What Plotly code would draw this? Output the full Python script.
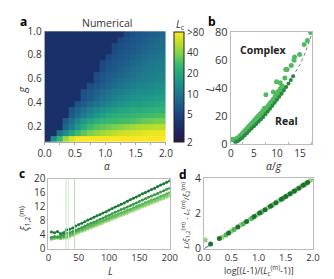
import numpy as np
import plotly.graph_objects as go

W, H = 334, 279
def px(x): return x / W
def py(y): return 1 - y / H

FONT = "Open Sans"
TXT = "#333333"

# ---------------- Panel a: numerical L_c map ----------------
alpha_values = [0.05, 0.15, 0.25, 0.35, 0.45, 0.55, 0.65, 0.75, 0.85, 0.95,
                1.05, 1.15, 1.25, 1.35, 1.45, 1.55, 1.65, 1.75, 1.85, 1.95]
g_values = [0.976, 0.927, 0.878, 0.829, 0.780, 0.731, 0.683, 0.634, 0.585, 0.536,
            0.487, 0.438, 0.389, 0.341, 0.292, 0.243, 0.194, 0.145, 0.096]
D = 3.5  # value in the dark (small-L_c) region
Lc_grid = [
    [D]*13 + [5.4, 5.9, 6.3, 6.8, 7.2, 7.5, 8.1],
    [D]*12 + [5.4, 5.9, 6.3, 6.8, 7.2, 7.8, 8.1, 8.8],
    [D]*11 + [5.4, 5.9, 6.3, 6.8, 7.2, 7.8, 8.4, 8.8, 9.1],
    [D]*11 + [5.6, 6.1, 6.5, 7.0, 7.5, 8.1, 8.8, 9.1, 9.4],
    [D]*10 + [5.4, 6.1, 6.5, 7.0, 7.5, 8.1, 8.8, 9.4, 9.8, 10.1],
    [D]*9 + [5.4, 6.1, 6.5, 7.0, 7.5, 8.1, 8.8, 9.4, 10.1, 10.5, 10.9],
    [D]*9 + [5.6, 6.3, 6.8, 7.5, 8.1, 8.8, 9.4, 10.1, 10.5, 10.9, 11.3],
    [D]*8 + [5.6, 6.3, 7.0, 7.5, 8.1, 8.8, 9.4, 10.1, 10.9, 11.3, 11.7, 12.2],
    [D]*8 + [5.9, 6.5, 7.2, 8.1, 8.8, 9.4, 10.1, 10.9, 11.3, 11.7, 12.2, 12.6],
    [D]*7 + [5.9, 6.5, 7.2, 8.1, 9.1, 9.8, 10.5, 11.3, 12.2, 12.6, 13.1, 13.6, 14.1],
    [D]*6 + [5.9, 6.8, 7.5, 8.4, 9.4, 10.5, 11.3, 12.2, 13.1, 13.6, 14.1, 14.6, 15.2, 15.8],
    [D]*6 + [6.1, 7.0, 8.1, 9.4, 10.5, 11.7, 12.6, 13.6, 14.6, 15.2, 15.8, 16.4, 17.0, 17.6],
    [D]*5 + [6.3, 7.2, 8.4, 9.8, 11.3, 12.6, 14.1, 15.2, 16.4, 17.0, 17.6, 18.3, 19.0, 19.7, 20.4],
    [D]*4 + [6.5, 7.8, 9.4, 11.3, 13.1, 14.6, 16.4, 17.6, 19.0, 19.7, 20.4, 21.2, 22.0, 22.8, 23.7, 23.7],
    [D]*4 + [7.0, 8.8, 10.9, 13.6, 15.8, 18.3, 20.4, 22.0, 22.8, 23.7, 24.6, 25.5, 26.4, 27.4, 28.5, 29.6],
    [D]*3 + [7.2, 9.4, 12.6, 16.4, 19.7, 22.8, 24.6, 25.5, 26.4, 27.4, 28.5, 29.6, 31.8, 34.2, 35.5, 36.9, 36.9],
    [D]*3 + [8.1, 11.3, 15.8, 21.2, 26.4, 30.6, 33.0, 35.5, 38.0, 41.0, 44.3, 47.8, 49.6, 51.0, 53.0, 55.0, 55.0],
    [D]*2 + [9.4, 13.6, 19.7, 26.4, 33.0, 38.0, 42.5, 47.8, 51.0, 55.0, 59.0, 61.3, 63.6, 66.0, 68.5, 71.0, 71.0, 73.7],
    [D]*1 + [13.6, 24.6, 46.0, 66.0, 80.0] + [90.0]*14,
]
cbar_vals = [2, 5, 10, 20, 40, 80]
cbar_text = ["2", "5", "10", "20", "40", ">80"]

# ---------------- Panel b: L vs alpha/g ----------------
b_complex_x = [0.1, 0.3, 0.5, 0.7, 0.9, 1.1, 1.3, 1.6, 1.9, 2.2, 2.5, 2.8, 3.1, 3.4, 3.7,
               4.0, 4.3, 4.6, 4.9, 5.2, 5.5, 5.8, 6.1, 6.4, 6.7, 7.0, 7.3, 7.6, 7.9, 8.2,
               8.5, 8.8, 9.2, 9.6, 9.9, 10.3, 10.7, 11.1, 11.7, 11.9, 12.2, 13.1, 13.7,
               13.8, 14.9, 15.9, 16.6, 17.3, 7.6, 9.9, 10.7, 9.2]
b_complex_y = [3.0, 3.0, 3.1, 3.0, 3.2, 3.4, 3.7, 4.4, 5.3, 6.3, 7.3, 8.4, 9.5, 10.5, 11.7,
               12.7, 13.8, 14.9, 16.0, 17.0, 18.1, 19.4, 20.3, 21.5, 22.4, 23.8, 25.5, 25.3,
               26.5, 27.6, 29.0, 30.2, 32.0, 34.0, 36.0, 37.6, 39.5, 41.5, 47.3, 53.4, 53.4,
               56.3, 60.1, 62.4, 64.2, 71.4, 74.3, 80.0, 35.3, 44.6, 43.9, 37.2]
b_band_x = [1.5, 2.0, 2.5, 3.0, 3.5, 4.0, 4.5, 5.0, 5.5, 6.0, 6.5, 7.0, 7.5, 8.0, 8.5,
            9.0, 9.5, 10.0, 10.5, 11.0, 11.5]
b_band_y = [3.6, 4.8, 6.1, 7.8, 9.4, 11.2, 12.8, 14.4, 16.0, 17.6, 19.3, 21.1, 23.0,
            25.0, 27.0, 29.1, 31.2, 33.4, 35.6, 37.9, 40.3]
b_real_x = [1.0, 1.5, 2.0, 2.5, 3.0, 3.5, 4.0, 4.5, 5.0, 5.5, 6.0, 6.5, 7.0, 7.5, 8.0,
            8.5, 9.0, 9.5, 10.0, 10.5, 11.0, 11.5, 12.0, 12.5, 13.0, 13.5]
b_real_y = [1.0, 1.8, 3.0, 4.3, 6.0, 7.6, 9.4, 11.0, 12.6, 14.2, 15.8, 17.5, 19.3, 21.2,
            23.2, 25.2, 27.3, 29.4, 31.6, 33.8, 36.0, 38.4, 40.8, 43.3, 45.9, 48.6]
b_fit_x = [12.0, 13, 14, 15, 16, 17, 17.4]
b_fit_y = [40.8, 45.9, 51.3, 57.0, 64.5, 73.0, 77.5]

# ---------------- Panel c: xi vs L ----------------
c_L = [5, 10, 15, 20, 25, 30, 35, 40, 45, 50, 55, 60, 65, 70, 75, 80, 85, 90, 95, 100,
       105, 110, 115, 120, 125, 130, 135, 140, 145, 150, 155, 160, 165, 170, 175, 180,
       185, 190, 195, 200]
c_xi = [
    [4.8, 4.6, 4.9, 4.3, 4.6, 5.4, 5.6, 5.9,
     6.5, 6.9, 7.3, 7.7, 8.2, 8.6, 9.0, 9.4, 9.8, 10.2, 10.6, 11.1, 11.5, 11.9, 12.3, 12.7,
     13.1, 13.6, 14.0, 14.4, 14.8, 15.2, 15.7, 16.1, 16.5, 16.9, 17.3, 17.8, 18.2, 18.6,
     19.0, 19.4],
    [3.3, 3.5, 3.4, 3.6, 3.9, 4.4, 4.6, 4.9,
     5.3, 5.7, 6.1, 6.5, 6.9, 7.3, 7.6, 8.0, 8.4, 8.8, 9.2, 9.6, 10.0, 10.4, 10.8, 11.2,
     11.5, 11.9, 12.3, 12.7, 13.1, 13.5, 13.9, 14.3, 14.7, 15.1, 15.4, 15.8, 16.2, 16.6,
     17.0, 17.3],
    [3.0, 3.2, 3.3, 3.1, 3.4, 3.5, 3.9, 4.3,
     4.8, 5.2, 5.5, 5.9, 6.3, 6.6, 7.0, 7.4, 7.7, 8.1, 8.4, 8.8, 9.2, 9.5, 9.9, 10.3,
     10.6, 11.0, 11.3, 11.7, 12.1, 12.4, 12.8, 13.2, 13.5, 13.9, 14.2, 14.6, 15.0, 15.3,
     15.7, 16.1],
    [2.8, 3.0, 3.2, 3.0, 3.2, 3.3, 3.6, 4.1,
     4.5, 4.9, 5.2, 5.6, 5.9, 6.3, 6.6, 7.0, 7.3, 7.7, 8.1, 8.4, 8.8, 9.1, 9.5, 9.8,
     10.2, 10.5, 10.9, 11.2, 11.6, 12.0, 12.3, 12.7, 13.0, 13.4, 13.7, 14.1, 14.4, 14.8,
     15.1, 15.5],
    [2.7, 2.9, 3.0, 2.9, 3.0, 3.1, 3.4, 3.8,
     4.2, 4.5, 4.9, 5.2, 5.6, 5.9, 6.3, 6.6, 7.0, 7.3, 7.7, 8.0, 8.4, 8.7, 9.1, 9.4,
     9.8, 10.1, 10.5, 10.8, 11.2, 11.5, 11.9, 12.2, 12.6, 12.9, 13.3, 13.6, 14.0, 14.3,
     14.7, 15.0],
]
c_colors = ["#1b7a37", "#3a9a48", "#5bb65a", "#84cb6c", "#a9dc8c"]
c_Lc_marks = [29, 33, 43]
c_Lc_colors = ["#c5e3c5", "#d5ebd5", "#b5dcb5"]

# ---------------- Panel d: collapse ----------------
d_dark_x = [0.12, 0.28, 0.45, 0.62, 0.78, 0.92, 1.02, 1.12, 1.22, 1.32, 1.42, 1.50, 1.58,
            1.66, 1.74, 1.82, 1.90]
d_dark_y = [0.27, 0.58, 0.90, 1.24, 1.55, 1.83, 2.03, 2.22, 2.42, 2.62, 2.82, 2.98, 3.13,
            3.29, 3.45, 3.61, 3.77]
d_mid_x = [0.40, 0.55, 0.72, 0.88, 1.05, 1.25, 1.45, 1.65, 1.85]
d_mid_y = [0.79, 1.09, 1.43, 1.74, 2.08, 2.48, 2.87, 3.27, 3.66]
d_light_x = [0.02, 0.33, 0.50, 0.68, 0.85, 0.97, 1.07, 1.17, 1.27, 1.37, 1.46, 1.54, 1.62,
             1.70, 1.78, 1.86, 1.95]
d_light_y = [0.50, 0.66, 1.00, 1.36, 1.69, 1.93, 2.13, 2.33, 2.53, 2.73, 2.90, 3.06, 3.22,
             3.38, 3.54, 3.70, 3.88]
d_fit_x = [0.0, 2.0]
d_fit_y = [0.0, 3.96]

# ---------------- Build figure ----------------
cs = [[0.0, "#2c1746"], [0.07, "#25205c"], [0.15, "#1a3068"], [0.25, "#1d4480"],
      [0.35, "#1e5e8b"], [0.45, "#1f798d"], [0.55, "#1e948b"], [0.65, "#2aae7c"],
      [0.72, "#45bd68"], [0.80, "#7bd04f"], [0.90, "#bddf27"], [1.0, "#fde725"]]

fig = go.Figure()
fig.add_trace(go.Heatmap(
    x=alpha_values, y=g_values, z=np.log10(np.array(Lc_grid, dtype=float)),
    zmin=np.log10(2), zmax=np.log10(80), colorscale=cs, xaxis="x", yaxis="y",
    hoverinfo="skip",
    colorbar=dict(x=px(166), xanchor="left", y=py(17), yanchor="top",
                  len=116 / H, lenmode="fraction", thickness=10, thicknessmode="pixels",
                  xpad=0, ypad=0, outlinewidth=1, outlinecolor="#222222",
                  tickvals=list(np.log10(cbar_vals)), ticktext=cbar_text, ticks="",
                  tickfont=dict(size=10, color=TXT, family=FONT)),
))

# panel b
fig.add_trace(go.Scatter(x=b_fit_x, y=b_fit_y, mode="lines", xaxis="x2", yaxis="y2",
                         line=dict(color="#777777", width=1, dash="dot"), showlegend=False))
fig.add_trace(go.Scatter(x=b_band_x, y=b_band_y, mode="markers", xaxis="x2", yaxis="y2",
                         marker=dict(size=5, color="#4fb45c"), showlegend=False))
fig.add_trace(go.Scatter(x=b_complex_x, y=b_complex_y, mode="markers", xaxis="x2", yaxis="y2",
                         marker=dict(size=5, color="#52b960"), showlegend=False))
fig.add_trace(go.Scatter(x=b_real_x, y=b_real_y, mode="markers", xaxis="x2", yaxis="y2",
                         marker=dict(size=4, color="#2a8a42"), showlegend=False))

# panel c
for v, col in zip(c_Lc_marks, c_Lc_colors):
    fig.add_shape(type="line", xref="x3", yref="y3 domain", x0=v, x1=v, y0=0, y1=1,
                  line=dict(color=col, width=1))
for ys, col in zip(c_xi[::-1], c_colors[::-1]):
    fig.add_trace(go.Scatter(x=c_L, y=ys, mode="lines+markers", xaxis="x3", yaxis="y3",
                             line=dict(color=col, width=1.3),
                             marker=dict(size=3, color=col), showlegend=False))

# panel d
fig.add_trace(go.Scatter(x=d_fit_x, y=d_fit_y, mode="lines", xaxis="x4", yaxis="y4",
                         line=dict(color="#333333", width=0.8, dash="dash"), showlegend=False))
fig.add_trace(go.Scatter(x=d_light_x, y=d_light_y, mode="markers", xaxis="x4", yaxis="y4",
                         marker=dict(size=5, color="#8fd27a"), showlegend=False))
fig.add_trace(go.Scatter(x=d_mid_x, y=d_mid_y, mode="markers", xaxis="x4", yaxis="y4",
                         marker=dict(size=5, color="#4fb45c"), showlegend=False))
fig.add_trace(go.Scatter(x=d_dark_x, y=d_dark_y, mode="markers", xaxis="x4", yaxis="y4",
                         marker=dict(size=5, color="#1d6f33"), showlegend=False))

tickfont = dict(size=10, color=TXT, family=FONT)
def ax(**kw):
    base = dict(showgrid=False, zeroline=False, tickfont=tickfont, ticks="",
                showline=True, linecolor="#aaaaaa", linewidth=1)
    base.update(kw)
    return base

fig.update_layout(
    width=W, height=H, margin=dict(l=0, r=0, t=0, b=0), autosize=False,
    paper_bgcolor="white", plot_bgcolor="white", showlegend=False,
    font=dict(family=FONT, color=TXT),
    xaxis=ax(domain=[px(31), px(158)], range=[0, 2], anchor="y",
             tickvals=[0, 0.5, 1, 1.5, 2], ticktext=["0.0", "0.5", "1.0", "1.5", "2.0"],
             ticks="outside", ticklen=2, tickcolor="#aaaaaa",
             minor=dict(tickvals=[0.25, 0.75, 1.25, 1.75], ticks="outside", ticklen=2,
                        tickcolor="#aaaaaa")),
    yaxis=ax(domain=[py(133), py(16)], range=[0.072, 1.0], anchor="x",
             tickvals=[0.2, 0.4, 0.6, 0.8, 1.0], ticktext=["0.2", "0.4", "0.6", "0.8", "1.0"]),
    xaxis2=ax(domain=[px(226), px(311)], range=[0, 17.6], anchor="y2",
              tickvals=[0, 5, 10, 15], mirror=True, linecolor="#bbbbbb",
              minor=dict(tickvals=[2.5, 7.5, 12.5, 17.5], ticks="inside", ticklen=2,
                         tickcolor="#bbbbbb")),
    yaxis2=ax(domain=[py(135), py(16.7)], range=[0, 80.5], anchor="x2",
              tickvals=[0, 20, 40, 60, 80], mirror=True, linecolor="#bbbbbb",
              tickfont=dict(size=11, color=TXT, family=FONT)),
    xaxis3=ax(domain=[px(35), px(162)], range=[0, 200], anchor="y3",
              tickvals=[0, 50, 100, 150, 200], mirror=True, linecolor="#bbbbbb",
              tickfont=dict(size=9.5, color=TXT, family=FONT)),
    yaxis3=ax(domain=[py(246), py(172)], range=[0, 20], anchor="x3",
              tickvals=[0, 4, 8, 12, 16, 20], mirror=True, linecolor="#bbbbbb"),
    xaxis4=ax(domain=[px(198), px(312)], range=[0, 2], anchor="y4",
              tickvals=[0, 0.5, 1, 1.5, 2], ticktext=["0.0", "0.5", "1.0", "1.5", "2.0"],
              mirror=True, linecolor="#bbbbbb",
              tickfont=dict(size=9.5, color=TXT, family=FONT)),
    yaxis4=ax(domain=[py(246), py(171.7)], range=[0, 4], anchor="x4",
              tickvals=[0, 2, 4], mirror=True, linecolor="#bbbbbb",
              tickfont=dict(size=10.5, color=TXT, family=FONT)),
)

def note(text, x, y, size=10, angle=0, bold=False, xanchor="center", yanchor="middle", color=TXT):
    if bold:
        text = "<b>" + text + "</b>"
    fig.add_annotation(text=text, x=px(x), y=py(y), xref="paper", yref="paper",
                       showarrow=False, textangle=angle, xanchor=xanchor, yanchor=yanchor,
                       font=dict(size=size, color=color, family=FONT))

note("a", 3, 6, size=12, bold=True, xanchor="left", color="#000")
note("Numerical", 96, 7, size=10.5)
note("<i>L</i><sub>c</sub>", 166, 9, size=10, xanchor="left")
note("<i>g</i>", 7, 78, size=11, angle=-90)
note("<i>α</i>", 96, 158, size=10)
note("b", 200, 6, size=12, bold=True, xanchor="left", color="#000")
note("<i>L</i>", 204, 77, size=11, angle=-90)
note("<i>α</i>/<i>g</i>", 271, 158, size=10.5)
note("Complex", 260, 36, size=10.5, bold=True, color="#222")
note("Real", 284, 111, size=10.5, bold=True, color="#222")
note("c", 2, 166, size=12, bold=True, xanchor="left", color="#000")
note("<i>ξ</i><sub>1,2</sub><sup>(m)</sup>", 10, 214, size=10, angle=-90)
note("<i>L</i>", 100, 279, size=10, yanchor="bottom")
note("d", 170, 167, size=12, bold=True, xanchor="left", color="#000")
note("<i>L</i>/<i>ξ</i><sub>1,2</sub><sup>(m)</sup> - <i>L</i><sub>c</sub><sup>(m)</sup>/<i>ξ</i><sub>2</sub><sup>(m)</sup>",
     179, 210, size=8, angle=-90)
note("log[(<i>L</i>-1)/(<i>L</i><sub>c</sub><sup>(m)</sup>-1)]", 255, 279, size=9, yanchor="bottom")

fig.write_html("out.html")
